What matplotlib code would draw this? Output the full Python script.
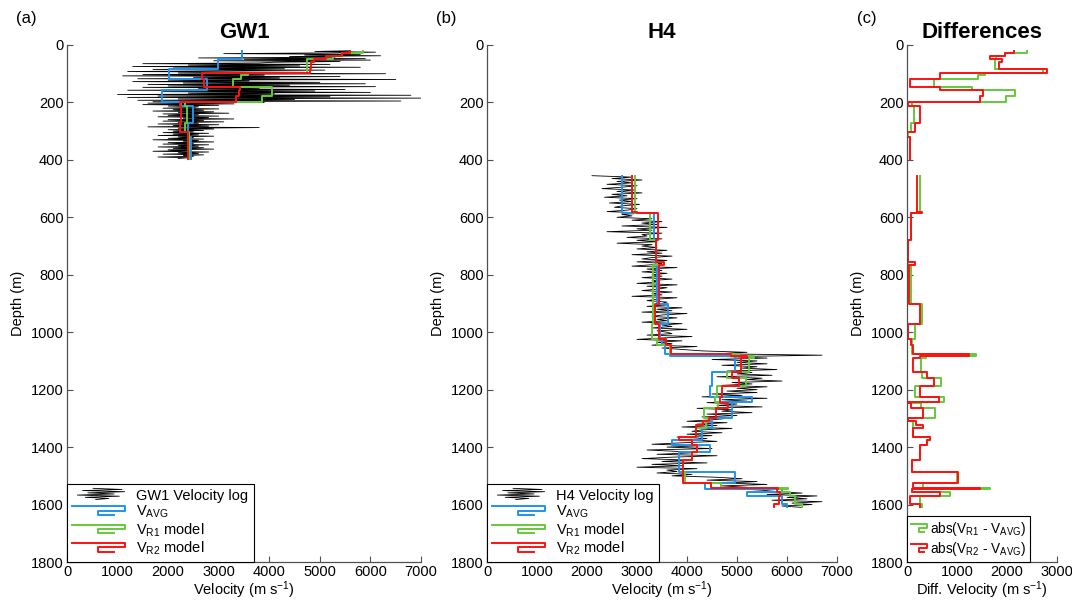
import numpy as np
import matplotlib
matplotlib.use("Agg")
import matplotlib.pyplot as plt
from matplotlib.legend_handler import HandlerBase
from matplotlib.lines import Line2D

plt.rcParams['font.family'] = ['Liberation Sans', 'DejaVu Sans']
plt.rcParams['mathtext.default'] = 'regular'

# ---- GW1 sonic log (2.5 m sampling from 20 m) ----
gw1_log_top, gw1_log_step = 20.0, 2.5
gw1_log = [
    5600, 4900, 6100, 5200, 3100, 5800, 4700, 6200, 4400,
    5300, 2600, 5900, 3500, 6000, 2900, 5400, 4100,
    3800, 1500, 5200, 2400, 4600, 1300, 5800, 2100, 4300, 1700, 5100, 2800,
    1200, 4700, 2200, 6300, 1500, 3900, 1100, 5400, 2500, 4200, 1400, 6500, 2000, 3600, 1300, 5000,
    2300, 5900, 1600, 4400, 2000, 6100, 1500, 3800, 2600, 5500, 1200, 4900, 1900, 6000, 2400, 4100,
    1000, 6800, 1800, 5200, 1200, 7000, 2200, 4500, 1400, 6600, 1700, 3900,
    1600, 3300, 1500, 3000, 2000, 2600,
    2500, 1900, 3000, 2100, 2700, 1700, 2900, 2200, 3200, 1900, 2600, 2000, 3000, 1800, 2800, 2300, 3300,
    2000, 2700, 1900, 3100, 2200, 2600, 1800, 3000, 2100, 2800, 1600, 3800, 2200, 2900, 2000, 2700, 2100,
    2500, 1900, 2800, 2100, 2600, 1800, 2900, 2200, 2500, 2000, 2700, 1700, 2600, 2300, 2900, 2000, 2500,
    1900, 2800, 2200, 2600, 1800, 2700, 2100, 2900, 2000, 2400, 1700, 2800, 2200, 2600, 1900, 2700, 2300,
    2500, 1800, 2400, 2200,
]

# ---- H4 sonic log (5 m sampling from 455 m) ----
h4_log_top, h4_log_step = 455.0, 5.0
h4_log = [
    2100, 2900, 2500, 3100, 2600, 2900, 2400, 3000, 2700, 2300, 2950, 2600, 3100, 2500, 2800,
    2350, 3000, 2650, 2900, 2450, 3050, 2700, 2550, 3000, 2800, 2400, 3150, 2700, 2900, 2600,
    3300, 2900, 3500, 3100, 3400, 2700, 3600, 3000, 3300, 2400, 3500, 3100, 3200, 2800, 3500, 3000, 3400, 2600, 3300, 3100,
    3400, 3000, 3600, 3200, 3500, 2900, 3700, 3300, 3100, 3600, 3000, 3500, 3300, 2900, 3800, 3200, 3500, 3100, 3600, 3300,
    3500, 3100, 3700, 3300, 3400, 3000, 3800, 3200, 3600, 3400, 3100, 3700, 3300, 3500, 2900, 3800, 3400, 3200, 3600, 3500,
    3600, 3200, 3900, 3400, 3700, 3100, 4000, 3500, 3300, 3800, 3400, 3600, 3100, 3900, 3500, 3700, 3300, 4000, 3400, 3600,
    3700, 3200, 4100, 3500, 3000, 3900, 3400, 3700, 3300, 4200, 3500, 3900,
    4300, 5200, 4600, 6700, 4800, 5600, 4500, 5400,
    5000, 5600, 4700, 5400, 5100, 5800, 4800, 5300, 5000, 5700, 4600, 5500, 5200, 5900, 4900, 5300, 4700, 5600, 5000, 5400,
    4800, 5400, 4500, 5100, 4300, 5600, 4700, 5200, 4400, 5000, 4600, 5500, 4200, 4900, 4700, 5300, 4400, 5000, 4300, 4800,
    4500, 4000, 4800, 4200, 4600, 3900, 4900, 4300, 4100, 4700, 4000, 4500, 3800, 4400, 4100, 4600,
    3900, 3300, 4300, 3600, 4500, 3200, 3800, 4100, 3400, 4600, 3700, 3100,
    4000, 3500, 4400, 3300, 3900, 3000, 4200, 3600, 3800, 3400, 4100, 3700,
    4600, 5100, 4400, 5400, 4800, 5600, 4700, 5200, 5000, 5500,
    5800, 6300, 5600, 6600, 6000, 6400, 5700, 6700, 6100, 6500, 5900, 6300,
]

# ---- GW1 layered velocity models ----
gw1_tops = [20, 29, 40, 50, 60, 85, 96, 105, 120, 145, 157, 178, 200, 213, 273, 302, 320]
gw1_bottom = 398
gw1_vavg = [3470, 3470, 3470, 2990, 2990, 2015, 2015, 2015, 2760, 2760, 1885, 1885, 2250, 2500, 2400, 2400, 2460]
gw1_vr1 = [5860, 5430, 5250, 4750, 4750, 4740, 3575, 3440, 3290, 4060, 4045, 3865, 2340, 2370, 2330, 2420, 2410]
gw1_vr2 = [5600, 5430, 5130, 4880, 4820, 4810, 2675, 2675, 2700, 3420, 3410, 3345, 2230, 2250, 2240, 2400, 2400]

# ---- H4 layered velocity models ----
h4_tops = [455, 580, 584, 678, 754, 766, 902, 972, 1022, 1045,
           1076, 1083, 1090, 1140, 1160, 1188, 1225, 1242, 1248, 1265,
           1300, 1310, 1323, 1335, 1364, 1376, 1393, 1416, 1445, 1486,
           1526, 1543, 1547, 1555, 1570, 1597]
h4_bottom = 1610
h4_vavg = [2700, 2700, 3330, 3380, 3380, 3400, 3620, 3450, 3500, 3550,
           3650, 4950, 4950, 4500, 4500, 4450, 5300, 4650, 4900, 4900,
           4450, 4500, 4500, 4300, 4300, 3700, 4460, 3830, 3830, 4950,
           4350, 4350, 5900, 5200, 5900, 6000]
h4_vr1 = [2960, 2960, 3250, 3370, 3400, 3313, 3320, 3300, 3400, 3650,
          5037, 5337, 5237, 4800, 5173, 4603, 4567, 4650, 4627, 4347,
          4430, 4373, 4373, 4173, 3840, 4093, 4200, 4090, 3920, 3950,
          4677, 6010, 5800, 6060, 6160, 6293]
h4_vr2 = [2895, 2995, 3410, 3370, 3540, 3440, 3367, 3430, 3587, 3670,
          4883, 5203, 5070, 4907, 5040, 4703, 4667, 4650, 4827, 4580,
          4430, 4313, 4173, 4173, 3840, 4093, 4200, 4090, 3923, 3923,
          4477, 5810, 5805, 5860, 5840, 5747]

C_AVG = '#1f94f0'
C_R1 = '#66c93a'
C_R2 = '#ff1010'
SPINE = '#505050'


def layer_curve(tops, bottom, values):
    """Turn layer tops + values into a blocky (velocity, depth) curve."""
    edges = np.append(np.asarray(tops, float), bottom)
    depth = np.repeat(edges, 2)[1:-1]
    vel = np.repeat(np.asarray(values, float), 2)
    return vel, depth


class IconHandler(HandlerBase):
    """Legend key drawn as a small polyline."""

    def __init__(self, xs, ys, lw=None):
        super().__init__()
        self.xs = np.asarray(xs, float)
        self.ys = np.asarray(ys, float)
        self.lw = lw

    def create_artists(self, legend, orig_handle, xdescent, ydescent,
                       width, height, fontsize, trans):
        line = Line2D(self.xs * width - xdescent, self.ys * height - ydescent,
                      color=orig_handle.get_color(),
                      lw=self.lw or orig_handle.get_linewidth())
        line.set_transform(trans)
        return [line]


step_icon = IconHandler([0, 1, 1, 0.5, 0.5, 0.8], [0.95, 0.95, 0.5, 0.5, 0.08, 0.08])
log_icon = IconHandler([0.4, 0.95, 0.2, 1.0, 0.3, 0.8, 0.1, 0.9, 0.25, 0.7, 0.45],
                       [1.15, 1.04, 0.93, 0.82, 0.71, 0.6, 0.49, 0.38, 0.27, 0.16, 0.05])


def style_axes(ax, xmax):
    ax.set_ylim(1800, 0)
    ax.set_xlim(0, xmax)
    ax.set_yticks(np.arange(0, 1801, 200))
    ax.set_xticks(np.arange(0, xmax + 1, 1000))
    for side in ('top', 'right'):
        ax.spines[side].set_visible(False)
    for side in ('left', 'bottom'):
        ax.spines[side].set_color(SPINE)
        ax.spines[side].set_linewidth(0.9)
    ax.tick_params(direction='in', length=4, width=0.8, color=SPINE,
                   labelsize=10.5, pad=2.5)
    ax.set_ylabel('Depth (m)', fontsize=10.5, labelpad=4)


def draw_well(ax, log, log_top, log_step, tops, bottom, vavg, vr1, vr2, name):
    depth = log_top + log_step * np.arange(len(log))
    ax.plot(log, depth, color='black', lw=0.6)
    h_avg, = ax.plot(*layer_curve(tops, bottom, vavg), color=C_AVG, lw=1.4)
    h_r1, = ax.plot(*layer_curve(tops, bottom, vr1), color=C_R1, lw=1.4)
    h_r2, = ax.plot(*layer_curve(tops, bottom, vr2), color=C_R2, lw=1.4)
    h_log = Line2D([], [], color='black', lw=0.6)
    leg = ax.legend([h_log, h_avg, h_r1, h_r2],
                    [f'{name} Velocity log', r'V$_{AVG}$', r'V$_{R1}$ model', r'V$_{R2}$ model'],
                    handler_map={h_log: log_icon, h_avg: step_icon, h_r1: step_icon, h_r2: step_icon},
                    loc='lower left', borderaxespad=0, fontsize=10.5, handlelength=3.6,
                    handletextpad=0.8, labelspacing=0.06, borderpad=0.35,
                    fancybox=False, edgecolor='black', framealpha=1)
    leg.get_frame().set_linewidth(0.8)


fig = plt.figure(figsize=(10.72, 6.01), dpi=100)
ax_a = fig.add_axes([67 / 1072, 39 / 601, 354 / 1072, 517 / 601])
ax_b = fig.add_axes([487 / 1072, 39 / 601, 350 / 1072, 517 / 601])
ax_c = fig.add_axes([907 / 1072, 39 / 601, 150 / 1072, 517 / 601])

draw_well(ax_a, gw1_log, gw1_log_top, gw1_log_step, gw1_tops, gw1_bottom,
          gw1_vavg, gw1_vr1, gw1_vr2, 'GW1')
draw_well(ax_b, h4_log, h4_log_top, h4_log_step, h4_tops, h4_bottom,
          h4_vavg, h4_vr1, h4_vr2, 'H4')

# differences between the regularised models and the averaged model
for tops, bottom, vavg, vr1, vr2 in ((gw1_tops, gw1_bottom, gw1_vavg, gw1_vr1, gw1_vr2),
                                     (h4_tops, h4_bottom, h4_vavg, h4_vr1, h4_vr2)):
    d1 = np.abs(np.subtract(vr1, vavg))
    d2 = np.abs(np.subtract(vr2, vavg))
    h_d1, = ax_c.plot(*layer_curve(tops, bottom, d1), color=C_R1, lw=1.4)
    h_d2, = ax_c.plot(*layer_curve(tops, bottom, d2), color=C_R2, lw=1.4)

leg_c = ax_c.legend([h_d1, h_d2],
                    [r'abs(V$_{R1}$ - V$_{AVG}$)', r'abs(V$_{R2}$ - V$_{AVG}$)'],
                    handler_map={h_d1: step_icon, h_d2: step_icon},
                    loc='lower left', borderaxespad=0, fontsize=9.8, handlelength=1.2,
                    handletextpad=0.2, labelspacing=0.15, borderpad=0.3,
                    fancybox=False, edgecolor='black', framealpha=1)
leg_c.get_frame().set_linewidth(0.8)

style_axes(ax_a, 7000)
style_axes(ax_b, 7000)
style_axes(ax_c, 3000)
ax_a.set_xlabel(r'Velocity (m s$^{-1}$)', fontsize=10.5, labelpad=0)
ax_b.set_xlabel(r'Velocity (m s$^{-1}$)', fontsize=10.5, labelpad=0)
ax_c.set_xlabel(r'Diff. Velocity (m s$^{-1}$)', fontsize=10.5, labelpad=0)

for ax, title in ((ax_a, 'GW1'), (ax_b, 'H4'), (ax_c, 'Differences')):
    ax.set_title(title, fontsize=16, fontweight='bold', pad=5)

for ax, tag in ((ax_a, '(a)'), (ax_b, '(b)'), (ax_c, '(c)')):
    ax.annotate(tag, xy=(0, 1), xycoords='axes fraction', xytext=(-29, 19),
                textcoords='offset points', fontsize=12, ha='center', va='center')

fig.savefig('out.png', dpi=100)
